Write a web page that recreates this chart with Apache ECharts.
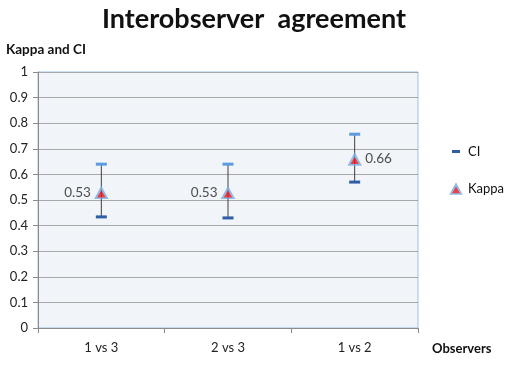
<!DOCTYPE html>
<html><head><meta charset="utf-8">
<script src="https://cdn.jsdelivr.net/npm/echarts@6/dist/echarts.min.js"></script>
<style>html,body{margin:0;padding:0;background:#fff}#c{width:508px;height:365px}</style>
</head><body><div id="c"></div>
<script>
var categories = ['1 vs 3', '2 vs 3', '1 vs 2'];
var kappa = [0.53, 0.53, 0.66];
var ciLow = [0.434, 0.43, 0.57];
var ciHigh = [0.64, 0.64, 0.757];
var yTicks = [0, 0.1, 0.2, 0.3, 0.4, 0.5, 0.6, 0.7, 0.8, 0.9, 1];
var labelSides = ['left', 'left', 'right'];

var triSvg = 'image://data:image/svg+xml;utf8,' + encodeURIComponent(
  '<svg xmlns="http://www.w3.org/2000/svg" width="28" height="26" viewBox="0 0 14 13">' +
  '<polygon points="7,0.3 13.8,12.8 0.2,12.8" fill="#79aee3"/>' +
  '<polygon points="7,4.6 11,11.2 3,11.2" fill="#e8121c"/></svg>');
var dashSvg = 'image://data:image/svg+xml;utf8,' + encodeURIComponent(
  '<svg xmlns="http://www.w3.org/2000/svg" width="28" height="26" viewBox="0 0 14 13">' +
  '<rect x="3" y="5" width="8" height="3" fill="#2e5ea8"/></svg>');

var chart = echarts.init(document.getElementById('c'), null, {renderer: 'canvas'});
var ff = 'Lato, "Open Sans", sans-serif';
chart.setOption({
  animation: false,
  backgroundColor: '#ffffff',
  title: {
    text: 'Interobserver  agreement', left: 'center', top: 1,
    textStyle: {fontFamily: ff, fontWeight: 'bold', fontSize: 27, color: '#111'}
  },
  legend: {
    orient: 'vertical', left: 444, top: 140, itemGap: 24,
    textStyle: {fontFamily: ff, fontSize: 13, color: '#111'},
    data: [
      {name: 'CI', icon: dashSvg},
      {name: 'Kappa', icon: triSvg}
    ],
    itemWidth: 14, itemHeight: 13, selectedMode: false
  },
  grid: {left: 38, right: 90, top: 72, bottom: 37, show: true,
    backgroundColor: '#f1f4f8', borderColor: '#9dc3e6', borderWidth: 1},
  xAxis: {
    type: 'category', data: categories, name: 'Observers',
    nameLocation: 'end', nameGap: 14,
    nameTextStyle: {fontFamily: ff, fontWeight: 'bold', fontSize: 13, color: '#111',
      verticalAlign: 'top', padding: [14, 0, 0, 0]},
    axisLine: {lineStyle: {color: '#8c8c8c'}},
    axisTick: {show: true, length: 5, lineStyle: {color: '#8c8c8c'}},
    axisLabel: {fontFamily: ff, fontSize: 13, color: '#222', margin: 13}
  },
  yAxis: {
    type: 'value', min: 0, max: 1, interval: 0.1,
    name: 'Kappa and CI', nameLocation: 'end', nameGap: 15,
    nameTextStyle: {fontFamily: ff, fontWeight: 'bold', fontSize: 13.5, color: '#111', align: 'left', padding: [0, 0, 0, -32]},
    axisLine: {show: true, lineStyle: {color: '#8c8c8c'}},
    axisTick: {show: true, length: 5, lineStyle: {color: '#8c8c8c'}},
    splitLine: {lineStyle: {color: '#a8a8a8'}},
    axisLabel: {fontFamily: ff, fontSize: 13, color: '#222', margin: 10,
      formatter: function (v) { var t = yTicks.filter(function (x) { return Math.abs(x - v) < 1e-9; }); return t.length ? String(+t[0].toFixed(1)) : ''; }}
  },
  series: [
    {
      name: 'CI', type: 'custom', z: 3,
      itemStyle: {color: '#2e5ea8'},
      data: categories.map(function (c, i) { return [i, ciLow[i], ciHigh[i]]; }),
      encode: {x: 0, y: [1, 2]},
      renderItem: function (params, api) {
        var lo = api.coord([api.value(0), api.value(1)]);
        var hi = api.coord([api.value(0), api.value(2)]);
        var w = 11;
        return {type: 'group', children: [
          {type: 'line', shape: {x1: lo[0], y1: lo[1], x2: hi[0], y2: hi[1]}, style: {stroke: '#404040', lineWidth: 1}},
          {type: 'rect', shape: {x: hi[0] - w / 2, y: hi[1] - 1.5, width: w, height: 3}, style: {fill: '#5b9be0'}},
          {type: 'rect', shape: {x: lo[0] - w / 2, y: lo[1] - 1.5, width: w, height: 3}, style: {fill: '#2e5ea8'}}
        ]};
      }
    },
    {
      name: 'Kappa', type: 'scatter', z: 5,
      symbol: triSvg, symbolSize: [15, 14],
      data: kappa.map(function (v, i) {
        return {value: [i, v], label: {position: labelSides[i], distance: 3}};
      }),
      label: {show: true, fontFamily: ff, fontSize: 13.5, color: '#222',
        formatter: function (p) { return p.value[1].toFixed(2); }}
    }
  ]
});
</script></body></html>
